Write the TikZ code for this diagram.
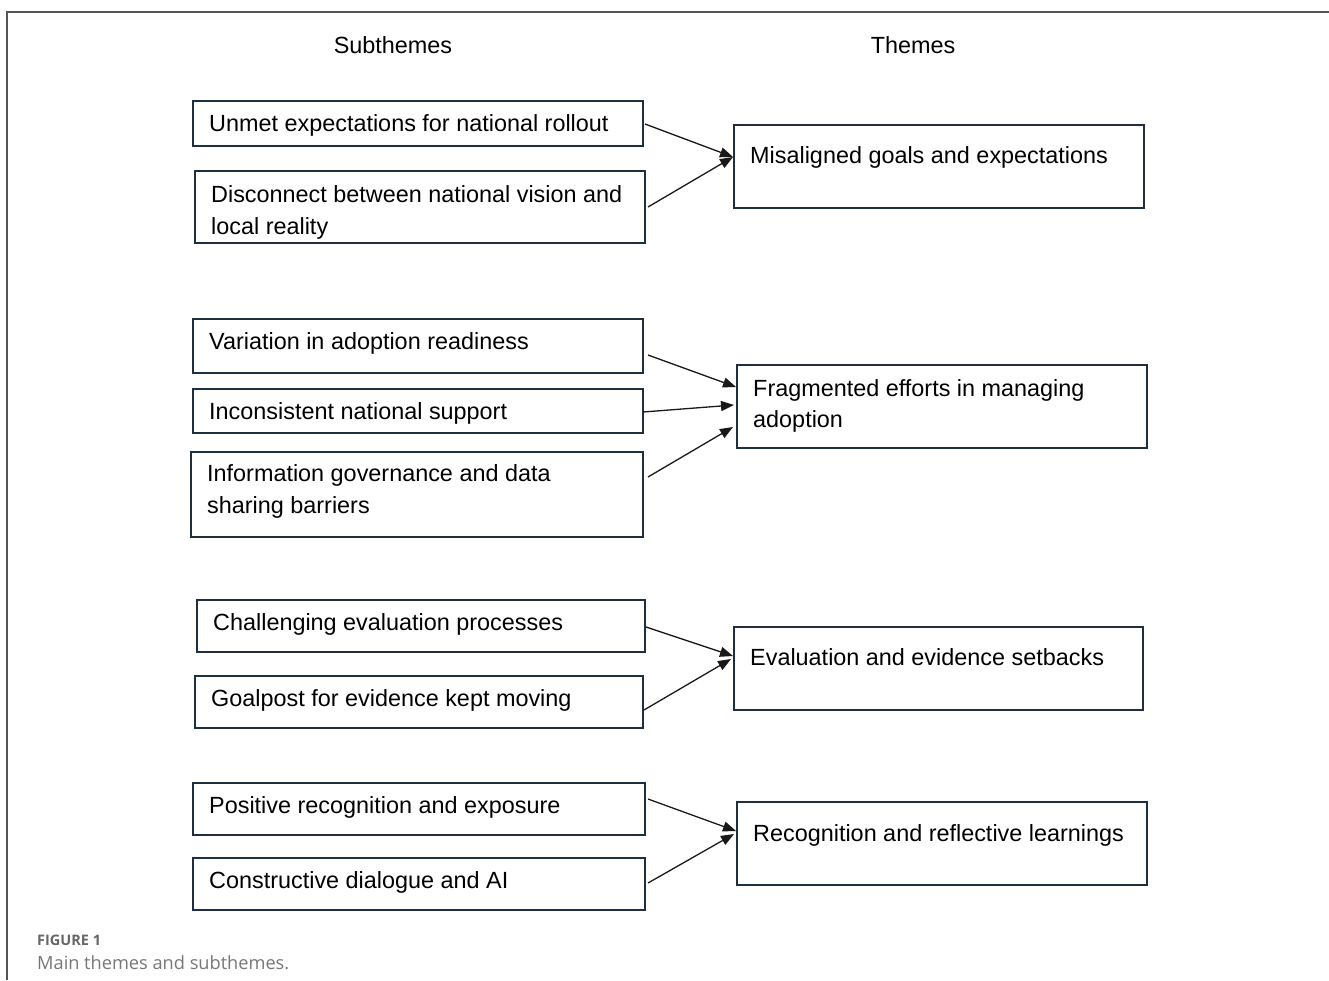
\documentclass[tikz,border=0pt]{standalone}
\usepackage{fontspec}
\setmainfont{Liberation Sans}
\newfontfamily\capfont{Open Sans}
\usetikzlibrary{arrows.meta}
\definecolor{boxc}{HTML}{1E2F3F}
\definecolor{framec}{HTML}{555555}
\definecolor{capc}{HTML}{777777}
\definecolor{capb}{HTML}{666666}
\tikzset{
  box/.style={draw=boxc, line width=2.2pt, inner sep=0pt, anchor=north west, fill=white},
  lbl/.style={inner sep=0pt, anchor=base west, text=black, font=\fontsize{23.4}{28}\selectfont},
  ttl/.style={inner sep=0pt, anchor=base, text=black, font=\fontsize{23.4}{28}\selectfont},
  arr/.style={draw=black!90, line width=1.3pt, -{Triangle[length=13pt,width=10pt]}},
}
\begin{document}
\begin{tikzpicture}[x=1pt,y=-1pt]
\useasboundingbox (0,0) rectangle (1329,980);
\draw[framec, line width=2pt] (7,980) -- (7,12) -- (1329,12);

\node[ttl] (h1) at (393,53) {Subthemes};
\node[ttl] (h2) at (913,53) {Themes};

% group 1
\node[box, minimum width=450, minimum height=45] (s1) at (192,100) {};
\node[lbl] (s1t) at (209,131) {Unmet expectations for national rollout};
\node[box, minimum width=450, minimum height=72] (s2) at (194,170) {};
\begin{scope}
\clip (195,171) rectangle (643,239.5);
\node[lbl] (s2t) at (211,202) {Disconnect between national vision and};
\node[lbl] (s2u) at (211,234) {local reality};
\end{scope}
\node[box, minimum width=410, minimum height=83] (t1) at (733,124) {};
\node[lbl] (t1t) at (750,163) {Misaligned goals and expectations};

\coordinate (a1) at (645,124);
\coordinate (a2) at (648,207);
\coordinate (e1) at (733,157);
\draw[arr] (a1) -- (e1);
\draw[arr] (a2) -- (e1);

% group 2
\node[box, minimum width=450, minimum height=54] (s3) at (192,318) {};
\node[lbl] (s3t) at (209,349) {Variation in adoption readiness};
\node[box, minimum width=450, minimum height=44] (s4) at (192,388) {};
\node[lbl] (s4t) at (209,419) {Inconsistent national support};
\node[box, minimum width=452, minimum height=85] (s5) at (190,451) {};
\node[lbl] (s5t) at (207,481) {Information governance and data};
\node[lbl] (s5u) at (207,513) {sharing barriers};
\node[box, minimum width=410, minimum height=83] (t2) at (736,364) {};
\node[lbl] (t2t) at (753,396) {Fragmented efforts in managing};
\node[lbl] (t2u) at (753,427) {adoption};

\coordinate (b1) at (648,355);
\coordinate (b2) at (643,412);
\coordinate (b3) at (648,477);
\coordinate (f1) at (736,387);
\coordinate (f2) at (734,405);
\coordinate (f3) at (733,427);
\draw[arr] (b1) -- (f1);
\draw[arr] (b2) -- (f2);
\draw[arr] (b3) -- (f3);

% group 3
\node[box, minimum width=448, minimum height=52] (s6) at (196,599) {};
\node[lbl] (s6t) at (213,630) {Challenging evaluation processes};
\node[box, minimum width=448, minimum height=52] (s7) at (194,675) {};
\node[lbl] (s7t) at (211,706) {Goalpost for evidence kept moving};
\node[box, minimum width=409, minimum height=83] (t3) at (733,626) {};
\node[lbl] (t3t) at (750,665) {Evaluation and evidence setbacks};

\coordinate (c1) at (646,627);
\coordinate (c2) at (644,710);
\coordinate (g1) at (733,656);
\coordinate (g2) at (731,659);
\draw[arr] (c1) -- (g1);
\draw[arr] (c2) -- (g2);

% group 4
\node[box, minimum width=452, minimum height=52] (s8) at (192,782) {};
\node[lbl] (s8t) at (209,813) {Positive recognition and exposure};
\node[box, minimum width=452, minimum height=52] (s9) at (192,857) {};
\node[lbl] (s9t) at (209,888) {Constructive dialogue and AI};
\node[box, minimum width=410, minimum height=83] (t4) at (736,801) {};
\node[lbl] (t4t) at (753,841) {Recognition and reflective learnings};

\coordinate (d1) at (648,799);
\coordinate (d2) at (648,883);
\coordinate (h4) at (736,831);
\coordinate (h5) at (734,834);
\draw[arr] (d1) -- (h4);
\draw[arr] (d2) -- (h5);

% caption
\node[inner sep=0pt, anchor=base west, text=capb, font=\capfont\bfseries\fontsize{14.5}{17}\selectfont] (cap1) at (37,945) {FIGURE 1};
\node[inner sep=0pt, anchor=base west, text=capc, font=\capfont\fontsize{18.2}{21}\selectfont] (cap2) at (37,969) {Main themes and subthemes.};
\end{tikzpicture}
\end{document}
